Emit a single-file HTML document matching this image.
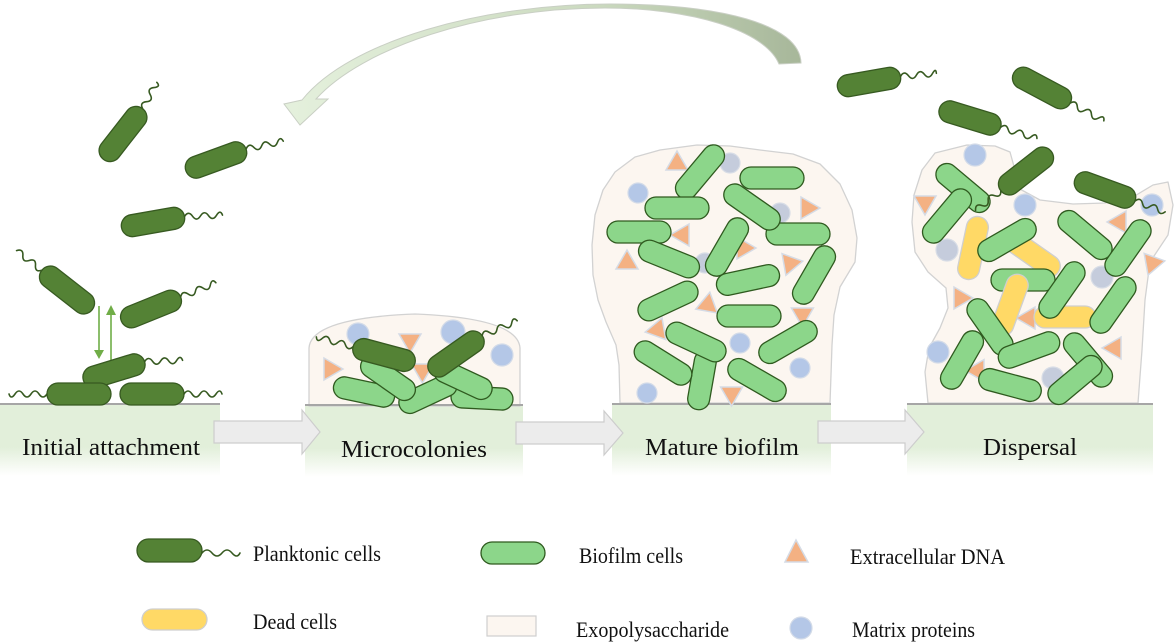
<!DOCTYPE html>
<html>
<head>
<meta charset="utf-8">
<style>
  html,body{margin:0;padding:0;background:#fff;}
  svg{display:block;}
  text{font-family:"Liberation Serif","Times New Roman",serif;fill:#111;}
  .p{fill:#548235;stroke:#375a21;stroke-width:1.3;}
  .b{fill:#8cd68a;stroke:#2f5a1f;stroke-width:1.3;}
  .d{fill:#ffd966;stroke:#cfcfcf;stroke-width:1.3;}
  .f{fill:none;stroke:#375a21;stroke-width:1.6;stroke-linecap:round;}
  .m{fill:#b4c7e7;stroke:#d3dbe8;stroke-width:1.2;}
  .mg{fill:#c5ccdc;stroke:#d8dde6;stroke-width:1.2;}
  .eps{fill:#fcf6f0;stroke:#d2d2d2;stroke-width:1.3;stroke-linejoin:round;}
  .ga{fill:#ececec;stroke:#cdcdcd;stroke-width:1.2;}
</style>
</head>
<body>
<svg width="1176" height="643" viewBox="0 0 1176 643" xmlns="http://www.w3.org/2000/svg">
<defs>
  <linearGradient id="sub" x1="0" y1="0" x2="0" y2="1">
    <stop offset="0" stop-color="#e2efda"/>
    <stop offset="0.6" stop-color="#e2efda"/>
    <stop offset="1" stop-color="#ffffff"/>
  </linearGradient>
  <linearGradient id="arc" gradientUnits="userSpaceOnUse" x1="800" y1="0" x2="290" y2="0">
    <stop offset="0" stop-color="#a7b79a"/>
    <stop offset="0.4" stop-color="#cbdabf"/>
    <stop offset="1" stop-color="#e4f0dc"/>
  </linearGradient>
  <polygon id="tri" points="0,-12 -11,7 11,7" fill="#f4b183" stroke="#d5dbe5" stroke-width="1.5"/>
</defs>

<!-- big curved arrow -->
<path d="M801,63 C800,24 720,4 610,4 C485,4 350,40 302,100 L284,104 L300,125 L328,99 L316,99 C362,48 480,8 605,8 C690,8 765,30 779,64 Z" fill="url(#arc)" stroke="#c9cfc4" stroke-width="1"/>

<!-- substrates -->
<rect x="0" y="404" width="220" height="72" fill="url(#sub)"/>
<line x1="0" y1="404" x2="220" y2="404" stroke="#a6a6a6" stroke-width="2"/>
<rect x="305" y="405" width="218" height="72" fill="url(#sub)"/>
<rect x="612" y="404" width="219" height="72" fill="url(#sub)"/>
<rect x="907" y="404" width="246" height="72" fill="url(#sub)"/>

<!-- ===== Microcolonies ===== -->
<path class="eps" d="M309,406 L309,348 Q311,318 415,314 Q518,318 520,348 L520,406 Z"/>
<line x1="305" y1="405" x2="523" y2="405" stroke="#a6a6a6" stroke-width="2"/>
<circle class="m" cx="358" cy="334" r="11"/>
<circle class="m" cx="453" cy="332" r="12"/>
<circle class="m" cx="502" cy="355" r="11"/>
<use href="#tri" transform="translate(410,341) rotate(180)"/>
<use href="#tri" transform="translate(331,369) rotate(90)"/>
<use href="#tri" transform="translate(423,370) rotate(60)"/>
<g transform="translate(364,392) rotate(12)"><rect class="b" x="-31" y="-11" width="62" height="22" rx="11"/></g>
<g transform="translate(482,398) rotate(3)"><rect class="b" x="-31" y="-11" width="62" height="22" rx="11"/></g>
<g transform="translate(428,394) rotate(-25)"><rect class="b" x="-31" y="-11" width="62" height="22" rx="11"/></g>
<g transform="translate(463,380) rotate(25)"><rect class="b" x="-31" y="-11" width="62" height="22" rx="11"/></g>
<g transform="translate(388,378) rotate(35)"><rect class="b" x="-31" y="-11" width="62" height="22" rx="11"/></g>
<g transform="translate(384,355) rotate(15)"><rect class="p" x="-32" y="-11" width="64" height="22" rx="11"/><path class="f" d="M-32,0 q-4,6 -8,0 t-8,0 t-8,0 t-8,0 t-6,0"/></g>
<g transform="translate(456,354) rotate(-35)"><rect class="p" x="-32" y="-11" width="64" height="22" rx="11"/><path class="f" d="M32,0 q4,-6 8,0 t8,0 t8,0 t8,0 t6,0" transform="rotate(12 32 0)"/></g>

<!-- ===== Mature biofilm ===== -->
<path class="eps" d="M620,403 L619,365 L616,345 L606,322 L598,300 L593,275 L592,245 L595,215 L603,190 L615,172 L635,157 L660,150 L697,145 L730,146 L760,150 L793,154 L820,164 L840,184 L852,210 L857,238 L855,262 L840,287 L834,315 L832,345 L831,375 L830,403 Z"/>
<line x1="612" y1="404" x2="831" y2="404" stroke="#a6a6a6" stroke-width="2"/>
<circle class="mg" cx="730" cy="163" r="10"/>
<circle class="m" cx="638" cy="193" r="10"/>
<circle class="mg" cx="780" cy="213" r="10"/>
<circle class="mg" cx="705" cy="263" r="10"/>
<circle class="m" cx="740" cy="343" r="10"/>
<circle class="m" cx="800" cy="368" r="10"/>
<circle class="m" cx="647" cy="393" r="10"/>
<use href="#tri" transform="translate(677,163) rotate(0)"/>
<use href="#tri" transform="translate(808,208) rotate(90)"/>
<use href="#tri" transform="translate(682,235) rotate(270)"/>
<use href="#tri" transform="translate(627,262) rotate(0)"/>
<use href="#tri" transform="translate(744,248) rotate(90)"/>
<use href="#tri" transform="translate(790,264) rotate(200)"/>
<use href="#tri" transform="translate(707,305) rotate(250)"/>
<use href="#tri" transform="translate(657,330) rotate(260)"/>
<use href="#tri" transform="translate(803,314) rotate(60)"/>
<use href="#tri" transform="translate(731,393) rotate(300)"/>
<g transform="translate(700,172) rotate(-50)"><rect class="b" x="-32" y="-11" width="64" height="22" rx="11"/></g>
<g transform="translate(772,178) rotate(0)"><rect class="b" x="-32" y="-11" width="64" height="22" rx="11"/></g>
<g transform="translate(677,208) rotate(0)"><rect class="b" x="-32" y="-11" width="64" height="22" rx="11"/></g>
<g transform="translate(798,234) rotate(0)"><rect class="b" x="-32" y="-11" width="64" height="22" rx="11"/></g>
<g transform="translate(752,207) rotate(35)"><rect class="b" x="-32" y="-11" width="64" height="22" rx="11"/></g>
<g transform="translate(639,232) rotate(0)"><rect class="b" x="-32" y="-11" width="64" height="22" rx="11"/></g>
<g transform="translate(669,259) rotate(22)"><rect class="b" x="-32" y="-11" width="64" height="22" rx="11"/></g>
<g transform="translate(727,247) rotate(-60)"><rect class="b" x="-32" y="-11" width="64" height="22" rx="11"/></g>
<g transform="translate(814,275) rotate(-60)"><rect class="b" x="-32" y="-11" width="64" height="22" rx="11"/></g>
<g transform="translate(748,280) rotate(-12)"><rect class="b" x="-32" y="-11" width="64" height="22" rx="11"/></g>
<g transform="translate(668,301) rotate(-25)"><rect class="b" x="-32" y="-11" width="64" height="22" rx="11"/></g>
<g transform="translate(749,316) rotate(0)"><rect class="b" x="-32" y="-11" width="64" height="22" rx="11"/></g>
<g transform="translate(788,342) rotate(-30)"><rect class="b" x="-32" y="-11" width="64" height="22" rx="11"/></g>
<g transform="translate(702,380) rotate(-80)"><rect class="b" x="-30" y="-11" width="60" height="22" rx="11"/></g>
<g transform="translate(663,363) rotate(32)"><rect class="b" x="-32" y="-11" width="64" height="22" rx="11"/></g>
<g transform="translate(696,342) rotate(25)"><rect class="b" x="-32" y="-11" width="64" height="22" rx="11"/></g>
<g transform="translate(757,380) rotate(30)"><rect class="b" x="-32" y="-11" width="64" height="22" rx="11"/></g>

<!-- ===== Dispersal ===== -->
<path class="eps" d="M928,403 L925,372 L929,348 L940,328 L948,308 L946,288 L928,272 L915,252 L912,222 L914,195 L922,170 L935,153 L967,145 L995,146 L1010,152 L1015,170 L1018,188 L1040,200 L1073,204 L1105,203 L1133,197 L1153,185 L1168,182 L1173,205 L1168,235 L1150,262 L1145,300 L1142,350 L1138,403 Z"/>
<line x1="907" y1="404" x2="1153" y2="404" stroke="#a6a6a6" stroke-width="2"/>
<circle class="m" cx="975" cy="155" r="11"/>
<circle class="m" cx="1025" cy="205" r="11"/>
<circle class="m" cx="1152" cy="205" r="11"/>
<circle class="mg" cx="947" cy="250" r="11"/>
<circle class="mg" cx="1102" cy="277" r="11"/>
<circle class="m" cx="938" cy="352" r="11"/>
<circle class="mg" cx="1053" cy="378" r="11"/>
<use href="#tri" transform="translate(925,203) rotate(180)"/>
<use href="#tri" transform="translate(1119,222) rotate(270)"/>
<use href="#tri" transform="translate(1153,263) rotate(80)"/>
<use href="#tri" transform="translate(961,298) rotate(90)"/>
<use href="#tri" transform="translate(1028,318) rotate(270)"/>
<use href="#tri" transform="translate(1114,348) rotate(270)"/>
<use href="#tri" transform="translate(978,370) rotate(30)"/>
<g transform="translate(1032,254) rotate(35)"><rect class="d" x="-32" y="-11" width="64" height="22" rx="11"/></g>
<g transform="translate(1065,317) rotate(0)"><rect class="d" x="-31" y="-11" width="62" height="22" rx="11"/></g>
<g transform="translate(963,188) rotate(40)"><rect class="b" x="-32" y="-11" width="64" height="22" rx="11"/></g>
<g transform="translate(947,216) rotate(-50)"><rect class="b" x="-32" y="-11" width="64" height="22" rx="11"/></g>
<g transform="translate(973,248) rotate(-78)"><rect class="d" x="-32" y="-11" width="64" height="22" rx="11"/></g>
<g transform="translate(1007,240) rotate(-30)"><rect class="b" x="-32" y="-11" width="64" height="22" rx="11"/></g>
<g transform="translate(1085,235) rotate(40)"><rect class="b" x="-32" y="-11" width="64" height="22" rx="11"/></g>
<g transform="translate(1128,248) rotate(-55)"><rect class="b" x="-32" y="-11" width="64" height="22" rx="11"/></g>
<g transform="translate(1023,280) rotate(0)"><rect class="b" x="-32" y="-11" width="64" height="22" rx="11"/></g>
<g transform="translate(1010,305) rotate(-70)"><rect class="d" x="-32" y="-11" width="64" height="22" rx="11"/></g>
<g transform="translate(1062,290) rotate(-55)"><rect class="b" x="-32" y="-11" width="64" height="22" rx="11"/></g>
<g transform="translate(1113,305) rotate(-55)"><rect class="b" x="-32" y="-11" width="64" height="22" rx="11"/></g>
<g transform="translate(990,327) rotate(55)"><rect class="b" x="-32" y="-11" width="64" height="22" rx="11"/></g>
<g transform="translate(962,360) rotate(-60)"><rect class="b" x="-32" y="-11" width="64" height="22" rx="11"/></g>
<g transform="translate(1029,350) rotate(-20)"><rect class="b" x="-32" y="-11" width="64" height="22" rx="11"/></g>
<g transform="translate(1088,360) rotate(50)"><rect class="b" x="-32" y="-11" width="64" height="22" rx="11"/></g>
<g transform="translate(1010,385) rotate(15)"><rect class="b" x="-32" y="-11" width="64" height="22" rx="11"/></g>
<g transform="translate(1075,380) rotate(-40)"><rect class="b" x="-32" y="-11" width="64" height="22" rx="11"/></g>
<!-- dispersing planktonic cells -->
<g transform="translate(1026,171) rotate(-38)"><rect class="p" x="-32" y="-11" width="64" height="22" rx="11"/><path class="f" d="M-32,0 q-4,6 -8,0 t-8,0 t-8,0 t-8,0"/></g>
<g transform="translate(1105,190) rotate(20)"><rect class="p" x="-32" y="-11" width="64" height="22" rx="11"/><path class="f" d="M32,0 q4,-6 8,0 t8,0 t8,0 t8,0"/></g>
<g transform="translate(869,82) rotate(-10)"><rect class="p" x="-32" y="-11" width="64" height="22" rx="11"/><path class="f" d="M32,0 q4,-6 8,0 t8,0 t8,0 t8,0 t4,0" transform="rotate(5 32 0)"/></g>
<g transform="translate(970,118) rotate(17)"><rect class="p" x="-32" y="-11" width="64" height="22" rx="11"/><path class="f" d="M32,0 q4,-6 8,0 t8,0 t8,0 t8,0 t6,0"/></g>
<g transform="translate(1042,88) rotate(28)"><rect class="p" x="-32" y="-11" width="64" height="22" rx="11"/><path class="f" d="M32,0 q4,-6 8,0 t8,0 t8,0 t8,0 t6,0"/></g>

<!-- ===== Initial attachment ===== -->
<g transform="translate(123,134) rotate(-52)"><rect class="p" x="-32" y="-11" width="64" height="22" rx="11"/><path class="f" d="M32,0 q4,-6 8,0 t8,0 t8,0 t6,0" transform="rotate(-10 32 0)"/></g>
<g transform="translate(216,160) rotate(-20)"><rect class="p" x="-32" y="-11" width="64" height="22" rx="11"/><path class="f" d="M32,0 q4,-6 8,0 t8,0 t8,0 t8,0 t6,0" transform="rotate(8 32 0)"/></g>
<g transform="translate(153,222) rotate(-10)"><rect class="p" x="-32" y="-11" width="64" height="22" rx="11"/><path class="f" d="M32,0 q4,-6 8,0 t8,0 t8,0 t8,0 t6,0" transform="rotate(8 32 0)"/></g>
<g transform="translate(67,290) rotate(38)"><rect class="p" x="-32" y="-11" width="64" height="22" rx="11"/><path class="f" d="M-32,0 q-4,6 -8,0 t-8,0 t-8,0 t-8,0"/></g>
<g transform="translate(151,309) rotate(-22)"><rect class="p" x="-32" y="-11" width="64" height="22" rx="11"/><path class="f" d="M32,0 q4,-6 8,0 t8,0 t8,0 t8,0 t6,0"/></g>
<!-- green double arrows -->
<line x1="99" y1="306" x2="99" y2="352" stroke="#70ad47" stroke-width="1.6"/>
<polygon points="94,350 104,350 99,359" fill="#70ad47"/>
<line x1="111" y1="360" x2="111" y2="313" stroke="#70ad47" stroke-width="1.6"/>
<polygon points="106,315 116,315 111,305" fill="#70ad47"/>
<g transform="translate(114,371) rotate(-17)"><rect class="p" x="-32" y="-11" width="64" height="22" rx="11"/><path class="f" d="M32,0 q4,-6 8,0 t8,0 t8,0 t8,0 t6,0" transform="rotate(15 32 0)"/></g>
<g transform="translate(79,394)"><rect class="p" x="-32" y="-11" width="64" height="22" rx="11"/><path class="f" d="M-32,0 q-4,6 -8,0 t-8,0 t-8,0 t-8,0 t-6,0"/></g>
<g transform="translate(152,394)"><rect class="p" x="-32" y="-11" width="64" height="22" rx="11"/><path class="f" d="M32,0 q4,-6 8,0 t8,0 t8,0 t8,0 t6,0"/></g>

<!-- gray process arrows -->
<polygon class="ga" points="214,421 302,421 302,410 320,432 302,454 302,443 214,443"/>
<polygon class="ga" points="516,422 604,422 604,411 623,433 604,455 604,444 516,444"/>
<polygon class="ga" points="818,421 905,421 905,410 924,432 905,454 905,443 818,443"/>

<!-- stage labels -->
<text x="22" y="455" font-size="24" textLength="178" lengthAdjust="spacingAndGlyphs">Initial attachment</text>
<text x="341" y="457" font-size="24" textLength="146" lengthAdjust="spacingAndGlyphs">Microcolonies</text>
<text x="645" y="455" font-size="24" textLength="154" lengthAdjust="spacingAndGlyphs">Mature biofilm</text>
<text x="983" y="455" font-size="24" textLength="94" lengthAdjust="spacingAndGlyphs">Dispersal</text>

<!-- ===== Legend ===== -->
<rect class="p" x="137" y="539" width="65" height="23" rx="11.5"/>
<path class="f" d="M202,553 q5,-6 10,0 t10,0 t10,0 t8,0"/>
<text x="253" y="561" font-size="22" textLength="128" lengthAdjust="spacingAndGlyphs">Planktonic cells</text>

<rect class="b" x="481" y="542" width="64" height="22" rx="11"/>
<text x="579" y="563" font-size="22" textLength="104" lengthAdjust="spacingAndGlyphs">Biofilm cells</text>

<polygon points="796,540 785,562 808,562" fill="#f4b183" stroke="#d5dbe5" stroke-width="1.5"/>
<text x="850" y="564" font-size="22" textLength="155" lengthAdjust="spacingAndGlyphs">Extracellular  DNA</text>

<rect class="d" x="142" y="609" width="65" height="21" rx="10.5"/>
<text x="253" y="629" font-size="22" textLength="84" lengthAdjust="spacingAndGlyphs">Dead cells</text>

<rect x="487" y="616" width="49" height="20" fill="#fcf6f0" stroke="#cfcfcf" stroke-width="1.2"/>
<text x="576" y="637" font-size="22" textLength="153" lengthAdjust="spacingAndGlyphs">Exopolysaccharide</text>

<circle class="m" cx="801" cy="628" r="11"/>
<text x="852" y="637" font-size="22" textLength="123" lengthAdjust="spacingAndGlyphs">Matrix proteins</text>
</svg>
</body>
</html>
